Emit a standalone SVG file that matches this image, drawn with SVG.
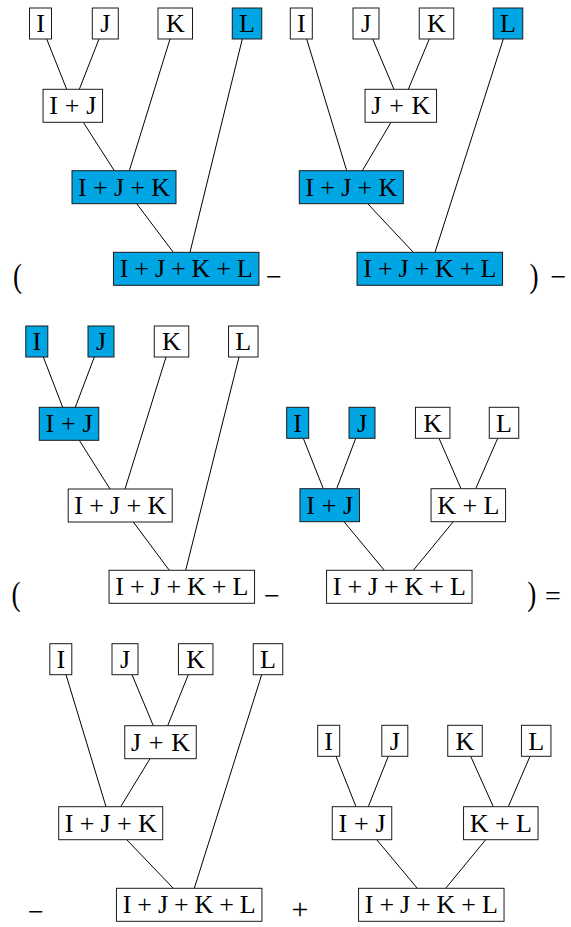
<svg xmlns="http://www.w3.org/2000/svg" width="571" height="927" viewBox="0 0 571 927">
<style>
.n rect{fill:#ffffff;stroke:#1a1a1a;stroke-width:1}
.n.b rect{fill:#00A5E3}
.n text{font-family:"Liberation Serif","Times New Roman",serif;font-size:26px;text-anchor:middle;fill:#000}
.op{font-family:"Liberation Serif","Times New Roman",serif;font-size:28px;text-anchor:middle;fill:#000}
.par{font-family:"Liberation Serif","Times New Roman",serif;font-size:34px;text-anchor:middle;fill:#000}
#connectors line{stroke:#000;stroke-width:1}
</style>
<rect width="571" height="927" fill="#fff"/>
<g id="connectors">
<line x1="46.7" y1="39" x2="66.7" y2="89.3"/>
<line x1="99" y1="39" x2="79.3" y2="89.3"/>
<line x1="83.3" y1="122.3" x2="114.3" y2="170.7"/>
<line x1="170" y1="39" x2="129.3" y2="170.7"/>
<line x1="136.7" y1="203.7" x2="173.3" y2="252.3"/>
<line x1="242.3" y1="39" x2="190" y2="252.3"/>
<line x1="306.7" y1="39" x2="346.7" y2="170.7"/>
<line x1="372.7" y1="39" x2="394" y2="89.3"/>
<line x1="429.3" y1="39" x2="408.3" y2="89.3"/>
<line x1="391" y1="122.3" x2="362.3" y2="170.7"/>
<line x1="367.7" y1="203.7" x2="413.3" y2="252.3"/>
<line x1="503.3" y1="39" x2="435" y2="252.3"/>
<line x1="43.3" y1="357" x2="62.7" y2="407.3"/>
<line x1="94.3" y1="357" x2="75.3" y2="407.3"/>
<line x1="79.3" y1="440.3" x2="110" y2="489"/>
<line x1="166" y1="357" x2="125" y2="489"/>
<line x1="133.3" y1="522" x2="169.3" y2="570.3"/>
<line x1="239" y1="357" x2="185.7" y2="570.3"/>
<line x1="303.3" y1="438.3" x2="323.3" y2="488.7"/>
<line x1="355.7" y1="438.3" x2="336.7" y2="488.7"/>
<line x1="439" y1="438.3" x2="461" y2="488.7"/>
<line x1="497.7" y1="438.3" x2="475.7" y2="488.7"/>
<line x1="344" y1="521.7" x2="384.3" y2="570.3"/>
<line x1="453.3" y1="521.7" x2="413.3" y2="570.3"/>
<line x1="66" y1="674.7" x2="106" y2="806.7"/>
<line x1="132" y1="674.7" x2="153.3" y2="725.7"/>
<line x1="188.3" y1="674.7" x2="167.7" y2="725.7"/>
<line x1="150" y1="758.7" x2="120.7" y2="806.7"/>
<line x1="126.7" y1="839.7" x2="173.3" y2="888.3"/>
<line x1="261.7" y1="674.7" x2="194.3" y2="888.3"/>
<line x1="336" y1="756.3" x2="356" y2="806.7"/>
<line x1="388.3" y1="756.3" x2="368.3" y2="806.7"/>
<line x1="470.7" y1="756.3" x2="493.3" y2="806.7"/>
<line x1="530" y1="756.3" x2="508.3" y2="806.7"/>
<line x1="376.7" y1="839.7" x2="417.3" y2="888.3"/>
<line x1="485.7" y1="839.7" x2="445.7" y2="888.3"/>
</g>
<!-- Tree 1 -->
<g id="t1-I" class="n"><rect x="29.5" y="8" width="22" height="31"/><text x="40.5" y="32.2">I</text></g>
<g id="t1-J" class="n"><rect x="92.3" y="8" width="26" height="31"/><text x="105.3" y="32.2">J</text></g>
<g id="t1-K" class="n"><rect x="158" y="8" width="34.5" height="31"/><text x="175.3" y="32.2">K</text></g>
<g id="t1-L" class="n b"><rect x="232.25" y="8" width="29.5" height="31"/><text x="247" y="32.2">L</text></g>
<g id="t1-IJ" class="n"><rect x="43.05" y="89.3" width="59.5" height="33"/><text x="72.8" y="114.3" textLength="47" lengthAdjust="spacing">I+J</text></g>
<g id="t1-IJK" class="n b"><rect x="72" y="170.7" width="104" height="33"/><text x="124" y="195.7" textLength="92" lengthAdjust="spacing">I+J+K</text></g>
<g id="t1-IJKL" class="n b"><rect x="113.45" y="252.3" width="145.5" height="33"/><text x="186.2" y="277.3" textLength="133" lengthAdjust="spacing">I+J+K+L</text></g>
<!-- Tree 2 -->
<g id="t2-I" class="n"><rect x="290.3" y="8" width="22" height="31"/><text x="301.3" y="32.2">I</text></g>
<g id="t2-J" class="n"><rect x="353" y="8" width="26" height="31"/><text x="366" y="32.2">J</text></g>
<g id="t2-K" class="n"><rect x="419.25" y="8" width="34.5" height="31"/><text x="436.5" y="32.2">K</text></g>
<g id="t2-L" class="n b"><rect x="493.25" y="8" width="29.5" height="31"/><text x="508" y="32.2">L</text></g>
<g id="t2-JK" class="n"><rect x="365.05" y="89.3" width="71.5" height="33"/><text x="400.8" y="114.3" textLength="59" lengthAdjust="spacing">J+K</text></g>
<g id="t2-IJK" class="n b"><rect x="299.3" y="170.7" width="104" height="33"/><text x="351.3" y="195.7" textLength="92" lengthAdjust="spacing">I+J+K</text></g>
<g id="t2-IJKL" class="n b"><rect x="357.05" y="252.3" width="145.5" height="33"/><text x="429.8" y="277.3" textLength="133" lengthAdjust="spacing">I+J+K+L</text></g>
<!-- Tree 3 -->
<g id="t3-I" class="n b"><rect x="25.8" y="326" width="22" height="31"/><text x="36.8" y="350.2">I</text></g>
<g id="t3-J" class="n b"><rect x="88" y="326" width="26" height="31"/><text x="101" y="350.2">J</text></g>
<g id="t3-K" class="n"><rect x="154.25" y="326" width="34.5" height="31"/><text x="171.5" y="350.2">K</text></g>
<g id="t3-L" class="n"><rect x="228.55" y="326" width="29.5" height="31"/><text x="243.3" y="350.2">L</text></g>
<g id="t3-IJ" class="n b"><rect x="39.25" y="407.3" width="59.5" height="33"/><text x="69" y="432.3" textLength="47" lengthAdjust="spacing">I+J</text></g>
<g id="t3-IJK" class="n"><rect x="68.2" y="489" width="104" height="33"/><text x="120.2" y="514" textLength="92" lengthAdjust="spacing">I+J+K</text></g>
<g id="t3-IJKL" class="n"><rect x="109.05" y="570.3" width="145.5" height="33"/><text x="181.8" y="595.3" textLength="133" lengthAdjust="spacing">I+J+K+L</text></g>
<!-- Tree 4 -->
<g id="t4-I" class="n b"><rect x="286.7" y="407.3" width="22" height="31"/><text x="297.7" y="431.5">I</text></g>
<g id="t4-J" class="n b"><rect x="349" y="407.3" width="26" height="31"/><text x="362" y="431.5">J</text></g>
<g id="t4-K" class="n"><rect x="415.45" y="407.3" width="34.5" height="31"/><text x="432.7" y="431.5">K</text></g>
<g id="t4-L" class="n"><rect x="489.25" y="407.3" width="29.5" height="31"/><text x="504" y="431.5">L</text></g>
<g id="t4-IJ" class="n b"><rect x="299.95" y="488.7" width="59.5" height="33"/><text x="329.7" y="513.7" textLength="47" lengthAdjust="spacing">I+J</text></g>
<g id="t4-KL" class="n"><rect x="431.05" y="488.7" width="74.5" height="33"/><text x="468.3" y="513.7" textLength="62" lengthAdjust="spacing">K+L</text></g>
<g id="t4-IJKL" class="n"><rect x="326.55" y="570.3" width="145.5" height="33"/><text x="399.3" y="595.3" textLength="133" lengthAdjust="spacing">I+J+K+L</text></g>
<!-- Tree 5 -->
<g id="t5-I" class="n"><rect x="49.8" y="643.7" width="22" height="31"/><text x="60.8" y="667.9">I</text></g>
<g id="t5-J" class="n"><rect x="112" y="643.7" width="26" height="31"/><text x="125" y="667.9">J</text></g>
<g id="t5-K" class="n"><rect x="178.45" y="643.7" width="34.5" height="31"/><text x="195.7" y="667.9">K</text></g>
<g id="t5-L" class="n"><rect x="253.25" y="643.7" width="29.5" height="31"/><text x="268" y="667.9">L</text></g>
<g id="t5-JK" class="n"><rect x="124.75" y="725.7" width="71.5" height="33"/><text x="160.5" y="750.7" textLength="59" lengthAdjust="spacing">J+K</text></g>
<g id="t5-IJK" class="n"><rect x="58.7" y="806.7" width="104" height="33"/><text x="110.7" y="831.7" textLength="92" lengthAdjust="spacing">I+J+K</text></g>
<g id="t5-IJKL" class="n"><rect x="116.45" y="888.3" width="145.5" height="33"/><text x="189.2" y="913.3" textLength="133" lengthAdjust="spacing">I+J+K+L</text></g>
<!-- Tree 6 -->
<g id="t6-I" class="n"><rect x="317.7" y="725.3" width="22" height="31"/><text x="328.7" y="749.5">I</text></g>
<g id="t6-J" class="n"><rect x="381.8" y="725.3" width="26" height="31"/><text x="394.8" y="749.5">J</text></g>
<g id="t6-K" class="n"><rect x="447.75" y="725.3" width="34.5" height="31"/><text x="465" y="749.5">K</text></g>
<g id="t6-L" class="n"><rect x="521.45" y="725.3" width="29.5" height="31"/><text x="536.2" y="749.5">L</text></g>
<g id="t6-IJ" class="n"><rect x="332.25" y="806.7" width="59.5" height="33"/><text x="362" y="831.7" textLength="47" lengthAdjust="spacing">I+J</text></g>
<g id="t6-KL" class="n"><rect x="463.55" y="806.7" width="74.5" height="33"/><text x="500.8" y="831.7" textLength="62" lengthAdjust="spacing">K+L</text></g>
<g id="t6-IJKL" class="n"><rect x="358.55" y="888.3" width="145.5" height="33"/><text x="431.3" y="913.3" textLength="133" lengthAdjust="spacing">I+J+K+L</text></g>
<!-- Operators -->
<g id="operators">
<text class="par" transform="scale(0.8,1)" x="21.9" y="287">(</text>
<text class="op" x="274" y="286">−</text>
<text class="par" transform="scale(0.8,1)" x="667.5" y="287">)</text>
<text class="op" x="558.5" y="286">−</text>
<text class="par" transform="scale(0.8,1)" x="20" y="605.5">(</text>
<text class="op" x="272" y="604.5">−</text>
<text class="par" transform="scale(0.8,1)" x="664.6" y="605.5">)</text>
<text class="op" x="553" y="605">=</text>
<text class="op" x="36" y="920.5">−</text>
<text class="op" x="300" y="918.5" style="font-size:30px">+</text>
</g>
</svg>
